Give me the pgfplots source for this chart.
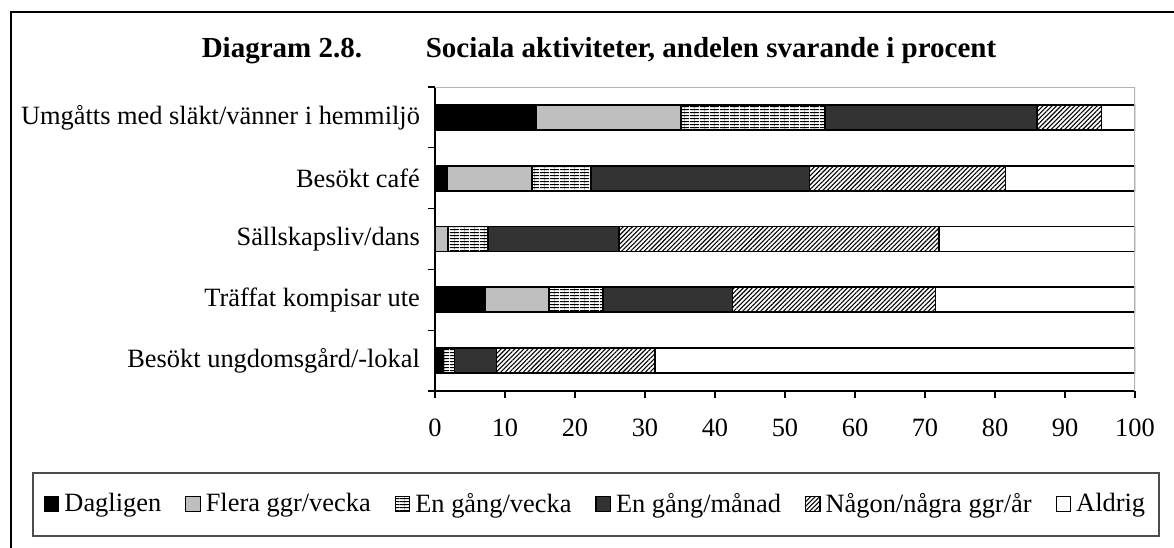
\documentclass[border=0pt]{standalone}
\usepackage{fontspec}
\setmainfont{Liberation Serif}
\usepackage{pgfplots}
\pgfplotsset{compat=1.18}
\usepackage{pgfplotstable}
\usetikzlibrary{patterns,patterns.meta}

% horizontal lines with faint vertical dashes (Excel "brick"-like fill)
\pgfdeclarepatternformonly{hbrick}{\pgfpointorigin}{\pgfpoint{5pt}{1.6pt}}{\pgfpoint{5pt}{1.6pt}}{
  \pgfsetlinewidth{0.6pt}
  \pgfpathmoveto{\pgfpoint{0pt}{0.8pt}}\pgfpathlineto{\pgfpoint{5pt}{0.8pt}}\pgfusepath{stroke}
  \pgfsetlinewidth{0.2pt}
  \pgfpathmoveto{\pgfpoint{2.5pt}{0pt}}\pgfpathlineto{\pgfpoint{2.5pt}{1.6pt}}\pgfusepath{stroke}
}

% rows: 0 = Umgåtts ... 4 = ungdomsgård
\pgfplotstableread{
y  d     f     ev    em    n     a
0  14.4  20.7  20.6  30.3  9.2   4.8
1  1.8   12.1  8.4   31.2  28.0  18.5
2  0     1.9   5.7   18.7  45.7  28.0
3  7.2   9.1   7.7   18.5  29.0  28.5
4  1.2   0     1.6   6.0   22.6  68.6
}\socdata

\begin{document}
\begin{tikzpicture}
\path (0,0) rectangle (587pt,273.5pt);

% outer frame (only left and top visible in the crop)
\draw[line width=0.6pt] (5.5pt,-10pt) -- (5.5pt,267.5pt) -- (600pt,267.5pt);

\node[anchor=base, font=\bfseries\fontsize{14.5}{17}\selectfont] at (299.5pt,244.5pt)
  {Diagram 2.8.\hspace{2.2em}Sociala aktiviteter, andelen svarande i procent};

\begin{axis}[
    at={(217.5pt,78pt)}, anchor=south west,
    scale only axis,
    width=350pt, height=152pt,
    xbar stacked,
    bar width=12.5pt,
    xmin=0, xmax=100,
    ymin=-0.5, ymax=4.5,
    y dir=reverse,
    axis x line*=bottom, axis y line*=left,
    axis line style={-, line width=0.8pt},
    tick align=outside,
    major tick length=3.5pt,
    tick style={black, line width=0.6pt},
    xtick={0,10,...,100},
    ytick={-0.5,0.5,...,4.5},
    yticklabels={},
    extra y ticks={0,1,2,3,4},
    extra y tick labels={Umgåtts med släkt/vänner i hemmiljö, Besökt café, Sällskapsliv/dans\ , Träffat kompisar ute, Besökt ungdomsgård/-lokal},
    extra y tick style={major tick length=0pt, yticklabel style={xshift=-4pt}},
    ticklabel style={font=\fontsize{13.2}{15}\selectfont},
    xticklabel style={yshift=-7pt},
    /pgf/number format/assume math mode=true,
    every axis plot/.append style={draw=black, line width=0.9pt},
    legend image code/.code={\draw[#1, line width=0.6pt] (0pt,-3.6pt) rectangle (7.2pt,3.6pt);},
    legend columns=6,
    legend style={at={(0.2307,-0.3717)}, anchor=center, draw=none, fill=none,
        font=\fontsize{13.2}{15}\selectfont,
        /tikz/every even column/.append style={column sep=10pt},
        /tikz/every odd column/.append style={column sep=0.5pt}},
]
\draw[gray!60, line width=0.8pt] (axis cs:0,-0.5) -- (axis cs:100,-0.5) -- (axis cs:100,4.5);
\addplot[fill=black] table[x=d, y=y] {\socdata};
\addplot[fill=black!25] table[x=f, y=y] {\socdata};
\addplot[fill=white, pattern=hbrick] table[x=ev, y=y] {\socdata};
\addplot[fill=black!80] table[x=em, y=y] {\socdata};
\addplot[pattern={Lines[angle=45, distance=1.6pt, line width=0.55pt]}] table[x=n, y=y] {\socdata};
\addplot[fill=white] table[x=a, y=y] {\socdata};
\legend{Dagligen, Flera ggr/vecka, En gång/vecka, En gång/månad, Någon/några ggr/år, Aldrig}
\end{axis}

% legend frame
\draw[black!70, line width=0.6pt] (16.5pt,5.5pt) rectangle (579.5pt,37pt);

\pgfresetboundingbox
\path[use as bounding box] (0,0) rectangle (587pt,273.5pt);
\end{tikzpicture}
\end{document}
